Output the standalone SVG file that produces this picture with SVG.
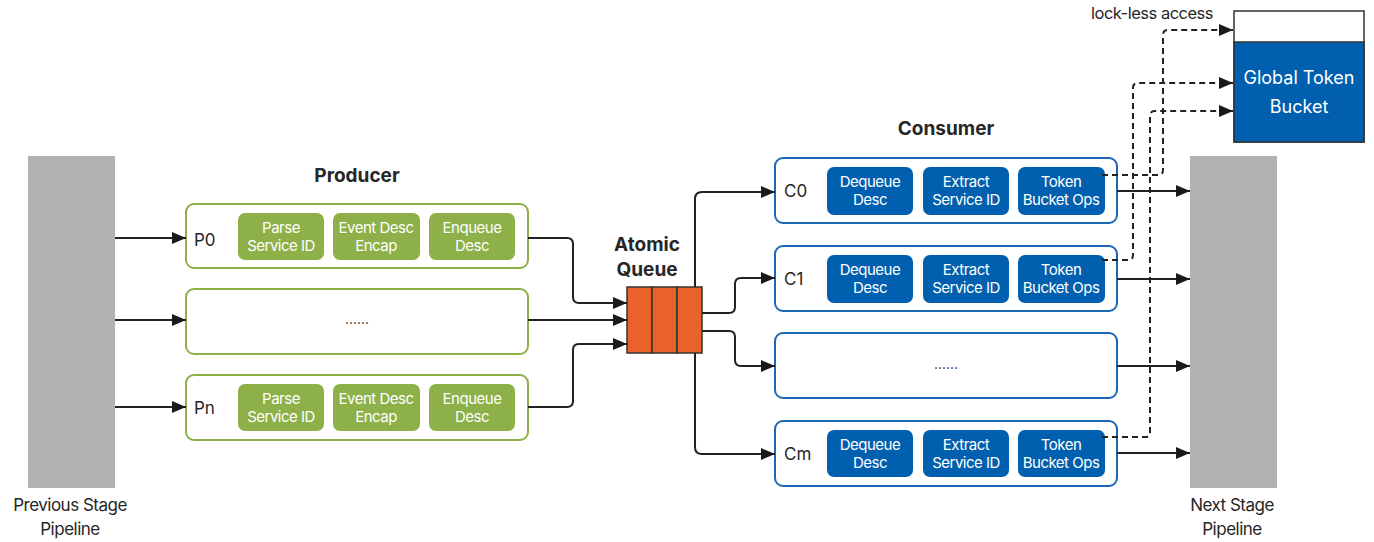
<svg xmlns="http://www.w3.org/2000/svg" width="1374" height="542" viewBox="0 0 1374 542">
<style>
text{font-family:Inter,"Liberation Sans",sans-serif;fill:#262626;}
.stage{fill:#b3b2b3;}
.pbox{fill:#fff;stroke:#8db048;stroke-width:2;}
.cbox{fill:#fff;stroke:#1a68b6;stroke-width:2;}
.gin{fill:#8db048;}
.bin{fill:#005fae;}
.in{fill:#fff;font-size:15px;text-anchor:middle;letter-spacing:-0.5px;}
.lbl{font-size:17px;}
.title{font-size:19px;font-weight:bold;text-anchor:middle;}
.cap{font-size:17px;text-anchor:middle;letter-spacing:-0.5px;}
.dots{font-size:14px;text-anchor:middle;fill:#333;}
.cell{fill:#e8622a;stroke:#333;stroke-width:1.5;}
.conn{fill:none;stroke:#222;stroke-width:2;marker-end:url(#ah);}
.dash{fill:none;stroke:#222;stroke-width:2;stroke-dasharray:6 4;marker-end:url(#ah);}
</style>
<defs>
<marker id="ah" markerUnits="userSpaceOnUse" markerWidth="16" markerHeight="12" refX="14" refY="6" orient="auto">
<path d="M0,0 L14,6 L0,12 z" fill="#1a1a1a"/>
</marker>
</defs>

<g id="prev-stage">
<rect class="stage" x="28" y="156" width="87" height="332"/>
<text class="cap" x="70" y="511">Previous Stage</text>
<text class="cap" x="70" y="535">Pipeline</text>
</g>
<g id="next-stage">
<rect class="stage" x="1190" y="156" width="87" height="332"/>
<text class="cap" x="1232" y="511">Next Stage</text>
<text class="cap" x="1232" y="535">Pipeline</text>
</g>

<text class="title" x="357" y="182">Producer</text>
<text class="title" x="946" y="135">Consumer</text>

<g id="P0">
<rect class="pbox" x="186" y="204" width="342" height="64" rx="8"/>
<text class="lbl" x="194" y="246">P0</text>
<rect class="gin" x="238" y="213" width="86" height="47" rx="7"/>
<text class="in" x="281" y="233">Parse</text><text class="in" x="281" y="251">Service ID</text>
<rect class="gin" x="333" y="213" width="87" height="47" rx="7"/>
<text class="in" x="376" y="233">Event Desc</text><text class="in" x="376" y="251">Encap</text>
<rect class="gin" x="429" y="213" width="86" height="47" rx="7"/>
<text class="in" x="472" y="233">Enqueue</text><text class="in" x="472" y="251">Desc</text>
</g>
<g id="Pmid">
<rect class="pbox" x="186" y="289" width="342" height="65" rx="8"/>
<text class="dots" x="357" y="324">......</text>
</g>
<g id="Pn">
<rect class="pbox" x="186" y="375" width="342" height="65" rx="8"/>
<text class="lbl" x="194" y="414">Pn</text>
<rect class="gin" x="238" y="384" width="86" height="47" rx="7"/>
<text class="in" x="281" y="404">Parse</text><text class="in" x="281" y="422">Service ID</text>
<rect class="gin" x="333" y="384" width="87" height="47" rx="7"/>
<text class="in" x="376" y="404">Event Desc</text><text class="in" x="376" y="422">Encap</text>
<rect class="gin" x="429" y="384" width="86" height="47" rx="7"/>
<text class="in" x="472" y="404">Enqueue</text><text class="in" x="472" y="422">Desc</text>
</g>

<g id="queue">
<text class="title" x="647" y="251">Atomic</text>
<text class="title" x="647" y="276">Queue</text>
<rect class="cell" x="627" y="287" width="25" height="66"/>
<rect class="cell" x="652" y="287" width="25" height="66"/>
<rect class="cell" x="677" y="287" width="25" height="66"/>
</g>

<g id="C0">
<rect class="cbox" x="775" y="158" width="342" height="65" rx="8"/>
<text class="lbl" x="784" y="197">C0</text>
<rect class="bin" x="827" y="167" width="86" height="48" rx="7"/>
<text class="in" x="870" y="187">Dequeue</text><text class="in" x="870" y="205">Desc</text>
<rect class="bin" x="923" y="167" width="86" height="48" rx="7"/>
<text class="in" x="966" y="187">Extract</text><text class="in" x="966" y="205">Service ID</text>
<rect class="bin" x="1018" y="167" width="87" height="48" rx="7"/>
<text class="in" x="1061" y="187">Token</text><text class="in" x="1061" y="205">Bucket Ops</text>
</g>
<g id="C1">
<rect class="cbox" x="775" y="246" width="342" height="65" rx="8"/>
<text class="lbl" x="784" y="285">C1</text>
<rect class="bin" x="827" y="255" width="86" height="48" rx="7"/>
<text class="in" x="870" y="275">Dequeue</text><text class="in" x="870" y="293">Desc</text>
<rect class="bin" x="923" y="255" width="86" height="48" rx="7"/>
<text class="in" x="966" y="275">Extract</text><text class="in" x="966" y="293">Service ID</text>
<rect class="bin" x="1018" y="255" width="87" height="48" rx="7"/>
<text class="in" x="1061" y="275">Token</text><text class="in" x="1061" y="293">Bucket Ops</text>
</g>
<g id="Cmid">
<rect class="cbox" x="775" y="333" width="342" height="65" rx="8"/>
<text class="dots" x="946" y="369">......</text>
</g>
<g id="Cm">
<rect class="cbox" x="775" y="421" width="342" height="65" rx="8"/>
<text class="lbl" x="784" y="460">Cm</text>
<rect class="bin" x="827" y="430" width="86" height="47" rx="7"/>
<text class="in" x="870" y="450">Dequeue</text><text class="in" x="870" y="468">Desc</text>
<rect class="bin" x="923" y="430" width="86" height="47" rx="7"/>
<text class="in" x="966" y="450">Extract</text><text class="in" x="966" y="468">Service ID</text>
<rect class="bin" x="1018" y="430" width="87" height="47" rx="7"/>
<text class="in" x="1061" y="450">Token</text><text class="in" x="1061" y="468">Bucket Ops</text>
</g>

<g id="global-token-bucket">
<rect x="1234" y="11" width="130" height="131" fill="#fff" stroke="#333" stroke-width="1.5"/>
<rect x="1234" y="42" width="130" height="100" fill="#005fae" stroke="#333" stroke-width="1.5"/>
<text x="1299" y="84" font-size="18" text-anchor="middle" style="fill:#fff">Global Token</text>
<text x="1299" y="113" font-size="18" text-anchor="middle" style="fill:#fff">Bucket</text>
</g>
<text x="1091" y="19" font-size="16.5" style="letter-spacing:-0.5px">lock-less access</text>

<g id="connectors">
<path class="conn" d="M115,238 H186"/>
<path class="conn" d="M115,320 H186"/>
<path class="conn" d="M115,407 H186"/>
<path class="conn" d="M528,238 H567 Q573,238 573,244 V297 Q573,303 579,303 H627"/>
<path class="conn" d="M528,320 H627"/>
<path class="conn" d="M528,407 H567 Q573,407 573,401 V350 Q573,344 579,344 H627"/>
<path class="conn" d="M695,287 V199 Q695,192 702,192 H775"/>
<path class="conn" d="M695,353 V447 Q695,454 702,454 H775"/>
<path class="conn" d="M702,313 H729 Q735,313 735,307 V284 Q735,278 741,278 H775"/>
<path class="conn" d="M702,331 H729 Q735,331 735,337 V360 Q735,366 741,366 H775"/>
<path class="conn" d="M1117,191 H1190"/>
<path class="conn" d="M1117,279 H1190"/>
<path class="conn" d="M1117,366 H1190"/>
<path class="conn" d="M1117,453 H1190"/>
<path class="dash" d="M1102,175 H1158 Q1163,175 1163,170 V35 Q1163,30 1168,30 H1233"/>
<path class="dash" d="M1102,260 H1128 Q1133,260 1133,255 V88 Q1133,83 1138,83 H1233"/>
<path class="dash" d="M1102,437 H1145 Q1150,437 1150,432 V116 Q1150,111 1155,111 H1233"/>
</g>
</svg>
